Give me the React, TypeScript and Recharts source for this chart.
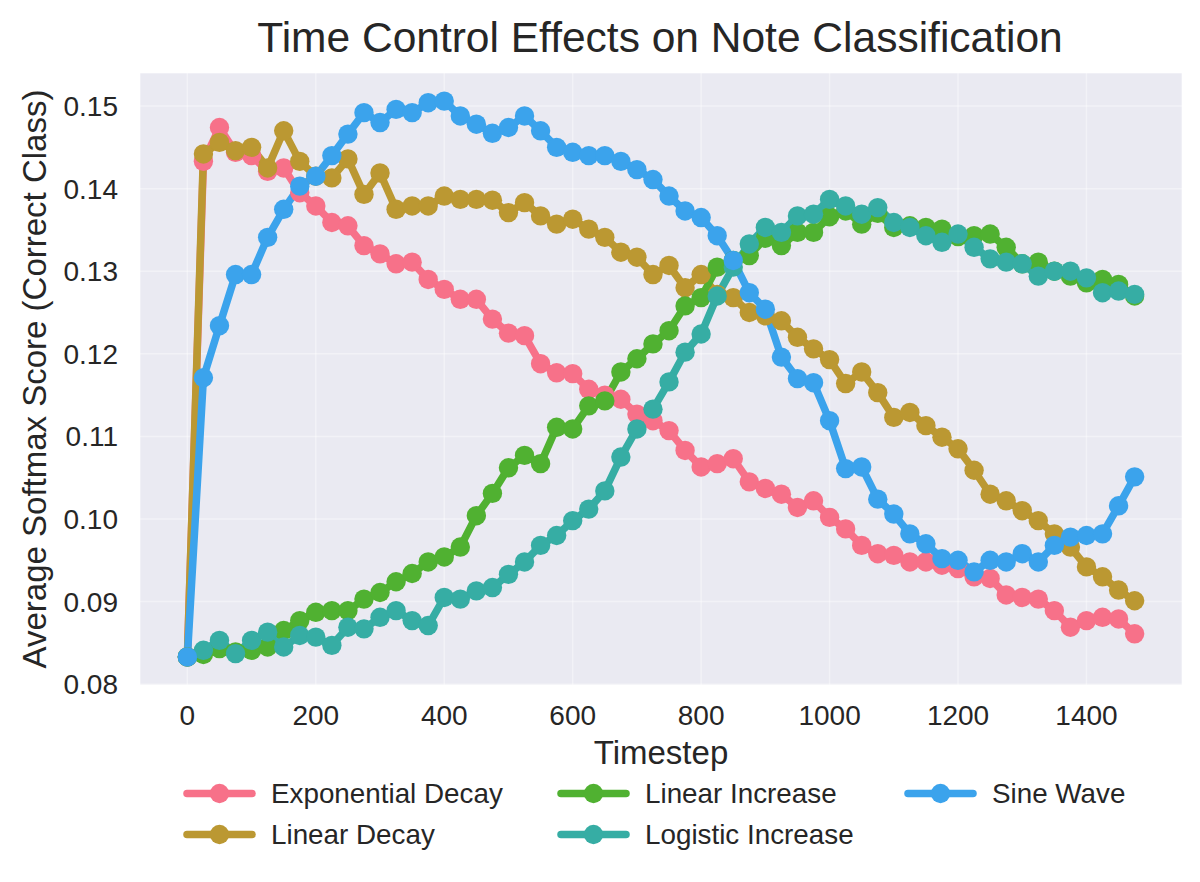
import React from "react";
import { LineChart, Line, XAxis, YAxis, CartesianGrid } from "recharts";

// timesteps on the x axis
const timesteps = [
  0, 25, 50, 75, 100, 125, 150, 175, 200, 225, 250, 275, 300, 325, 350, 375,
  400, 425, 450, 475, 500, 525, 550, 575, 600, 625, 650, 675, 700, 725, 750,
  775, 800, 825, 850, 875, 900, 925, 950, 975, 1000, 1025, 1050, 1075, 1100,
  1125, 1150, 1175, 1200, 1225, 1250, 1275, 1300, 1325, 1350, 1375, 1400,
  1425, 1450, 1475,
];

const exponentialDecay = [
  0.0833, 0.1433, 0.1474, 0.1444, 0.144, 0.1421, 0.1425, 0.1395, 0.1379,
  0.1359, 0.1355, 0.1331, 0.1321, 0.1309, 0.1311, 0.129, 0.1278, 0.1266,
  0.1266, 0.1242, 0.1225, 0.1222, 0.1188, 0.1177, 0.1176, 0.1157, 0.115,
  0.1145, 0.1127, 0.1119, 0.1107, 0.1083, 0.1063, 0.1067, 0.1073, 0.1045,
  0.1037, 0.103, 0.1014, 0.1022, 0.1002, 0.0988, 0.0968, 0.0958, 0.0956,
  0.0948, 0.0948, 0.0944, 0.094, 0.093, 0.0928, 0.0908, 0.0905, 0.0903,
  0.0889, 0.0869, 0.0877, 0.0881, 0.0879, 0.0861,
];

const linearDecay = [
  0.0833, 0.1442, 0.1456, 0.1446, 0.145, 0.1425, 0.147, 0.1433, 0.1415,
  0.1413, 0.1436, 0.1393, 0.1419, 0.1375, 0.1379, 0.1379, 0.1391, 0.1387,
  0.1387, 0.1386, 0.1371, 0.1383, 0.1367, 0.1357, 0.1363, 0.1351, 0.1341,
  0.1323, 0.1317, 0.1296, 0.1307, 0.128, 0.1296, 0.1272, 0.1268, 0.125,
  0.1246, 0.124, 0.122, 0.1206, 0.1193, 0.1164, 0.1178, 0.1153, 0.1123,
  0.1129, 0.1113, 0.1099, 0.1085, 0.1059, 0.103, 0.1022, 0.101, 0.0998,
  0.0982, 0.0966, 0.0942, 0.093, 0.0914, 0.0901,
];

const linearIncrease = [
  0.0833, 0.0836, 0.0843, 0.0839, 0.0841, 0.0845, 0.0865, 0.0877, 0.0887,
  0.0889, 0.0889, 0.0903, 0.0911, 0.0924, 0.0934, 0.0948, 0.0954, 0.0966,
  0.1004, 0.1031, 0.1062, 0.1077, 0.1067, 0.1111, 0.1109, 0.1137, 0.1143,
  0.1178, 0.1194, 0.1212, 0.1228, 0.1258, 0.1268, 0.1305, 0.1313, 0.1319,
  0.134, 0.1331, 0.1347, 0.1347, 0.1366, 0.1373, 0.1357, 0.137, 0.1353,
  0.1355, 0.1353, 0.1351, 0.1342, 0.1343, 0.1345, 0.1329, 0.1309, 0.1311,
  0.13, 0.1294, 0.1286, 0.129, 0.1284, 0.127,
];

const logisticIncrease = [
  0.0833, 0.0841, 0.0853, 0.0837, 0.0853, 0.0863, 0.0845, 0.0859, 0.0857,
  0.0847, 0.0869, 0.0867, 0.0881, 0.0889, 0.0877, 0.0871, 0.0905, 0.0903,
  0.0913, 0.0917, 0.0933, 0.0948, 0.0968, 0.098, 0.0998, 0.1012, 0.1034,
  0.1075, 0.1109, 0.1133, 0.1166, 0.1202, 0.1224, 0.127, 0.1305, 0.1333,
  0.1353, 0.1347, 0.1367, 0.1369, 0.1387, 0.1379, 0.1369, 0.1377, 0.1359,
  0.1353, 0.1343, 0.1335, 0.1345, 0.1329, 0.1315, 0.1311, 0.1309, 0.1294,
  0.13, 0.13, 0.1292, 0.1274, 0.1276, 0.1272,
];

const sineWave = [
  0.0833, 0.1171, 0.1234, 0.1296, 0.1296, 0.1341, 0.1375, 0.1403, 0.1415,
  0.144, 0.1466, 0.1492, 0.148, 0.1496, 0.1492, 0.1504, 0.1506, 0.1488,
  0.1478, 0.1467, 0.1474, 0.1488, 0.147, 0.145, 0.1444, 0.144, 0.144, 0.1433,
  0.1423, 0.1411, 0.1391, 0.1373, 0.1365, 0.1343, 0.1313, 0.1274, 0.1254,
  0.1196, 0.117, 0.1165, 0.1119, 0.1061, 0.1063, 0.1024, 0.1006, 0.0982,
  0.097, 0.0952, 0.095, 0.0936, 0.095, 0.0948, 0.0958, 0.0948, 0.0968,
  0.0978, 0.098, 0.0982, 0.1016, 0.1051,
];

const xTicks = [0, 200, 400, 600, 800, 1000, 1200, 1400];
const yTicks = [0.08, 0.09, 0.1, 0.11, 0.12, 0.13, 0.14, 0.15];

const series = [
  { key: "expDecay", name: "Exponential Decay", color: "#f77189", values: exponentialDecay },
  { key: "linDecay", name: "Linear Decay", color: "#bb9832", values: linearDecay },
  { key: "linInc", name: "Linear Increase", color: "#50b131", values: linearIncrease },
  { key: "logInc", name: "Logistic Increase", color: "#36ada4", values: logisticIncrease },
  { key: "sine", name: "Sine Wave", color: "#3ba3ec", values: sineWave },
];

const data = timesteps.map((t, i) => {
  const row: Record<string, number> = { t };
  series.forEach((s) => (row[s.key] = s.values[i]));
  return row;
});

const FONT = "'Liberation Sans', Arial, sans-serif";
const TEXT = "#262626";

// legend slots: matplotlib ncol=3 fills column by column
const legendCols = [187, 561, 908];
const legendRows = [793.5, 834.5];

const LegendIcon = ({ x, y, color }: { x: number; y: number; color: string }) => (
  <g>
    <line x1={x} y1={y} x2={x + 65} y2={y} stroke={color} strokeWidth={7.5} strokeLinecap="round" />
    <circle cx={x + 32.5} cy={y} r={9.7} fill={color} />
  </g>
);

export default function App() {
  return (
    <div style={{ position: "absolute", left: 0, top: 0, width: 1200, height: 882, background: "#fff", fontFamily: FONT }}>
      <LineChart
        width={1200}
        height={882}
        data={data}
        margin={{ top: 73, right: 18, bottom: 107, left: 0 }}
        style={{ fontFamily: FONT }}
      >
        <CartesianGrid fill="#EAEAF2" stroke="#ffffff" strokeOpacity={0.4} strokeWidth={1.5} />
        <XAxis
          type="number"
          dataKey="t"
          domain={[-73.75, 1548.75]}
          ticks={xTicks}
          allowDataOverflow
          tickLine={false}
          axisLine={false}
          tickMargin={14}
          height={90}
          tick={{ fontSize: 28, fill: TEXT, fontFamily: FONT }}
          label={{ value: "Timestep", position: "insideBottom", offset: 11, style: { fontSize: 33, fill: TEXT, fontFamily: FONT } }}
        />
        <YAxis
          type="number"
          domain={[0.0799, 0.154]}
          ticks={yTicks}
          allowDataOverflow
          tickLine={false}
          axisLine={false}
          width={140}
          tickMargin={16}
          tickFormatter={(v: number) => v.toFixed(2)}
          tick={{ fontSize: 28, fill: TEXT, fontFamily: FONT }}
          label={{
            value: "Average Softmax Score (Correct Class)",
            angle: -90,
            position: "insideLeft",
            offset: 34,
            style: { textAnchor: "middle", fontSize: 33, fill: TEXT, fontFamily: FONT },
          }}
        />
        {series.map((s) => (
          <Line
            key={s.key}
            type="linear"
            dataKey={s.key}
            name={s.name}
            stroke={s.color}
            strokeWidth={7.5}
            strokeLinejoin="round"
            strokeLinecap="round"
            dot={{ r: 9.7, fill: s.color, stroke: s.color, strokeWidth: 0 }}
            activeDot={false}
            isAnimationActive={false}
          />
        ))}
      </LineChart>
      <svg
        width={1200}
        height={882}
        style={{ position: "absolute", left: 0, top: 0, pointerEvents: "none", fontFamily: FONT }}
      >
        <text x={660} y={52} textAnchor="middle" fontSize={42.5} fill={TEXT}>
          Time Control Effects on Note Classification
        </text>
        {series.map((s, i) => {
          const col = Math.floor(i / 2);
          const row = i % 2;
          const x = legendCols[col];
          const y = legendRows[row];
          return (
            <g key={s.key}>
              <LegendIcon x={x} y={y} color={s.color} />
              <text x={x + 84} y={y + 9.9} fontSize={27.8} fill={TEXT}>
                {s.name}
              </text>
            </g>
          );
        })}
      </svg>
    </div>
  );
}
